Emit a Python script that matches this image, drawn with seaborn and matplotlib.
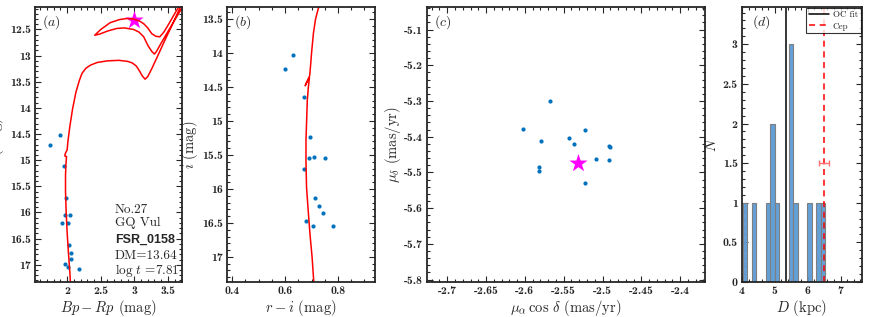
import numpy as np
import pandas as pd
import matplotlib.pyplot as plt
import seaborn as sns
from matplotlib.ticker import MultipleLocator, AutoMinorLocator, FuncFormatter
from matplotlib.lines import Line2D

# (a) Gaia colour-magnitude diagram
bp_rp = [1.90, 1.74, 1.95, 1.98, 1.96, 2.04, 1.93, 2.01, 2.02, 2.05, 2.05, 1.97, 2.01, 2.17]
g_mag = [14.51, 14.70, 15.12, 15.73, 16.05, 16.04, 16.20, 16.20, 16.62, 16.77, 16.89, 16.98, 17.04, 17.08]
cep_bp_rp = [2.99]
cep_g = [12.32]
iso_bp_rp = [2.05, 2.04, 2.02, 2.00, 1.985, 1.975, 1.975, 1.98, 1.99, 1.965, 1.97, 2.00, 2.01, 2.04,
             2.08, 2.13, 2.18, 2.22, 2.28, 2.35, 2.45, 2.60, 2.77, 2.90, 2.97, 3.03, 3.08, 3.12, 3.16,
             3.20, 3.26, 3.35, 3.45, 3.55, 3.65, 3.75, 3.76, 3.63, 3.50, 3.40, 3.33, 3.30, 3.26, 3.20,
             3.14, 3.07, 2.99, 2.85, 2.74, 2.60, 2.48, 2.41, 2.50, 2.64, 2.78, 2.89, 2.99, 3.08, 3.14,
             3.20, 3.26, 3.32, 3.38, 3.44, 3.52, 3.60, 3.70]
iso_g = [17.40, 17.15, 16.80, 16.40, 16.00, 15.60, 15.30, 15.10, 14.93, 14.92, 14.88, 14.80, 14.65, 14.35,
         14.02, 13.70, 13.48, 13.34, 13.24, 13.18, 13.13, 13.10, 13.09, 13.11, 13.14, 13.20, 13.30, 13.39, 13.45,
         13.40, 13.25, 13.00, 12.72, 12.45, 12.17, 11.90, 11.98, 12.26, 12.54, 12.76, 12.92, 12.97, 12.92, 12.80,
         12.64, 12.55, 12.50, 12.47, 12.48, 12.53, 12.59, 12.61, 12.50, 12.37, 12.31, 12.29, 12.30, 12.34, 12.39,
         12.47, 12.58, 12.63, 12.64, 12.55, 12.38, 12.20, 11.98]

# (b) r-i vs i
r_i = [0.631, 0.600, 0.673, 0.694, 0.692, 0.711, 0.751, 0.671, 0.713, 0.727, 0.742, 0.679, 0.707, 0.780]
i_mag = [14.02, 14.24, 14.64, 15.23, 15.55, 15.53, 15.55, 15.71, 16.13, 16.25, 16.36, 16.47, 16.54, 16.54]
iso_r_i = [0.709, 0.702, 0.694, 0.687, 0.681, 0.679, 0.679, 0.684, 0.688, 0.692, 0.679, 0.676,
           0.693, 0.697, 0.700, 0.707, 0.715, 0.725, 0.735]
iso_i = [17.40, 17.00, 16.66, 16.30, 15.97, 15.60, 15.28, 14.69, 14.50, 14.36, 14.45, 14.48,
         14.33, 14.15, 14.00, 13.71, 13.50, 13.35, 13.25]

# (c) proper motions
pmra = [-2.567, -2.602, -2.522, -2.579, -2.543, -2.537, -2.492, -2.491, -2.509, -2.492, -2.582, -2.582, -2.523]
pmdec = [-5.301, -5.379, -5.382, -5.412, -5.404, -5.421, -5.425, -5.428, -5.463, -5.464, -5.485, -5.497, -5.531]
cep_pmra = [-2.532]
cep_pmdec = [-5.473]

# (d) distances
dist = [4.09, 4.37, 4.79, 4.93, 4.95, 5.07, 5.47, 5.49, 5.51, 5.63, 6.05, 6.33, 6.45]
oc_fit_d = 5.33
cep_d = 6.49
cep_d_err = 0.15

sns.set_style("ticks")
plt.rcParams['font.family'] = ['cmr10', 'DejaVu Serif']
plt.rcParams['mathtext.fontset'] = 'cm'
plt.rcParams['axes.unicode_minus'] = False

blue = '#0072BD'
lab = 10.5
fig = plt.figure(figsize=(8.72, 3.17), dpi=100)
bot, h = 0.1104, 0.8675
ax_a = fig.add_axes([0.0401, bot, 0.1686, h])
ax_b = fig.add_axes([0.2603, bot, 0.1697, h])
ax_c = fig.add_axes([0.4897, bot, 0.3188, h])
ax_d = fig.add_axes([0.8509, bot, 0.1376, h])

fmt = FuncFormatter(lambda v, p: '%g' % round(v, 4))


def style(ax, xmaj, xn, ymaj, yn):
    ax.xaxis.set_major_locator(MultipleLocator(xmaj))
    ax.xaxis.set_minor_locator(AutoMinorLocator(xn))
    ax.yaxis.set_major_locator(MultipleLocator(ymaj))
    ax.yaxis.set_minor_locator(AutoMinorLocator(yn))
    ax.xaxis.set_major_formatter(fmt)
    ax.yaxis.set_major_formatter(fmt)
    ax.tick_params(which='both', direction='in', top=True, right=True, color='#262626', width=0.8)
    ax.tick_params(which='major', length=4, labelsize=8.5, pad=3, labelfontfamily='cmb10')
    ax.tick_params(which='minor', length=2)
    for s in ax.spines.values():
        s.set_linewidth(1.3)
        s.set_color('#262626')


# panel a
sns.lineplot(x=iso_bp_rp, y=iso_g, sort=False, estimator=None, color='red', lw=1.1, ax=ax_a)
sns.scatterplot(x=bp_rp, y=g_mag, s=9, color=blue, linewidth=0, ax=ax_a)
sns.scatterplot(x=cep_bp_rp, y=cep_g, marker='*', s=190, color='magenta', linewidth=0, ax=ax_a)
ax_a.set_xlim(1.52, 3.71)
ax_a.set_ylim(17.33, 12.07)
style(ax_a, 0.5, 5, 0.5, 5)
ax_a.set_xlabel(r'$Bp - Rp$ (mag)', fontsize=lab, labelpad=1)
ax_a.set_ylabel(r'$G$ (mag)', fontsize=lab)
ax_a.yaxis.set_label_coords(-0.2, 0.5)
ax_a.text(0.05, 0.945, r'$(a)$', transform=ax_a.transAxes, fontsize=10, va='center')
ax_a.text(0.544, 0.262, 'No.27', transform=ax_a.transAxes, fontsize=9.5, va='center')
ax_a.text(0.544, 0.215, 'GQ Vul', transform=ax_a.transAxes, fontsize=9.5, va='center')
ax_a.text(0.544, 0.153, 'FSR_0158', transform=ax_a.transAxes, fontsize=9, va='center',
          family='Liberation Sans', weight='bold')
ax_a.text(0.544, 0.093, 'DM=13.64', transform=ax_a.transAxes, fontsize=9.5, va='center')
ax_a.text(0.544, 0.042, r'$\log\,t$ =7.81', transform=ax_a.transAxes, fontsize=9.5, va='center')

# panel b
sns.lineplot(x=iso_r_i, y=iso_i, sort=False, estimator=None, color='red', lw=1.1, ax=ax_b)
sns.scatterplot(x=r_i, y=i_mag, s=9, color=blue, linewidth=0, ax=ax_b)
ax_b.set_xlim(0.38, 0.94)
ax_b.set_ylim(17.37, 13.32)
style(ax_b, 0.2, 4, 0.5, 5)
ax_b.set_xlabel(r'$r - i$ (mag)', fontsize=lab, labelpad=1)
ax_b.set_ylabel(r'$i$ (mag)', fontsize=lab)
ax_b.yaxis.set_label_coords(-0.185, 0.5)
ax_b.text(0.05, 0.945, r'$(b)$', transform=ax_b.transAxes, fontsize=10, va='center')

# panel c
sns.scatterplot(x=pmra, y=pmdec, s=9, color=blue, linewidth=0, ax=ax_c)
sns.scatterplot(x=cep_pmra, y=cep_pmdec, marker='*', s=190, color='magenta', linewidth=0, ax=ax_c)
ax_c.set_xlim(-2.726, -2.368)
ax_c.set_ylim(-5.807, -5.037)
style(ax_c, 0.05, 5, 0.1, 5)
ax_c.set_xlabel(r'$\mu_\alpha\,\cos\,\delta$ (mas/yr)', fontsize=lab, labelpad=1)
ax_c.set_ylabel(r'$\mu_\delta$ (mas/yr)', fontsize=lab)
ax_c.yaxis.set_label_coords(-0.085, 0.5)
ax_c.text(0.025, 0.945, r'$(c)$', transform=ax_c.transAxes, fontsize=10, va='center')

# panel d
sns.histplot(x=dist, binwidth=0.14, binrange=(4.02, 6.54), color='#5b9bd5', edgecolor='#7f7f7f',
             linewidth=0.8, alpha=0.95, ax=ax_d)
ax_d.axvline(oc_fit_d, color='black', lw=1.1)
ax_d.axvline(cep_d, color='red', lw=1.1, ls=(0, (4, 3)))
ax_d.errorbar([cep_d], [1.5], xerr=[cep_d_err], color='#ff6f6f', capsize=2, lw=1, capthick=1)
ax_d.set_xlim(4, 7.65)
ax_d.set_ylim(0, 3.47)
style(ax_d, 1, 5, 0.5, 5)
ax_d.set_xlabel(r'$D$ (kpc)', fontsize=lab, labelpad=1)
ax_d.set_ylabel(r'$N$', fontsize=lab)
ax_d.yaxis.set_label_coords(-0.19, 0.5)
ax_d.text(0.08, 0.945, r'$(d)$', transform=ax_d.transAxes, fontsize=10, va='center')
handles = [Line2D([], [], color='black', lw=1.1), Line2D([], [], color='red', lw=1.1, ls=(0, (4, 3)))]
leg = ax_d.legend(handles, ['OC fit', 'Cep'], loc='upper right', fontsize=6.5, frameon=True,
                  fancybox=False, edgecolor='black', borderaxespad=0.15, handlelength=2.2,
                  borderpad=0.3, labelspacing=0.3, handletextpad=0.4)
leg.get_frame().set_linewidth(0.8)

fig.savefig('out.png', dpi=100)
